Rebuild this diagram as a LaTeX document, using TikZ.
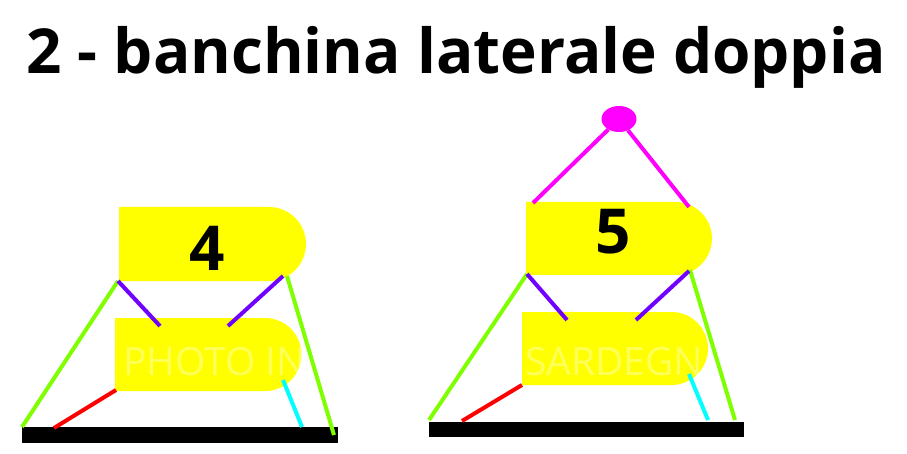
\documentclass[tikz,border=0pt]{standalone}
\usepackage{fontspec}
\usetikzlibrary{shapes.geometric}
\setmainfont{Open Sans}
\definecolor{yel}{RGB}{255,255,0}
\definecolor{grn}{RGB}{128,255,0}
\definecolor{prp}{RGB}{112,0,255}
\definecolor{rd}{RGB}{255,0,0}
\definecolor{cy}{RGB}{0,255,255}
\definecolor{mg}{RGB}{255,0,255}
\begin{document}
\begin{tikzpicture}[x=1pt,y=-1pt,
  conn/.style={line width=4pt},
  grnl/.style={conn,draw=grn},
  prpl/.style={conn,draw=prp},
  redl/.style={conn,draw=rd},
  cyl/.style={conn,draw=cy},
  mgl/.style={conn,draw=mg},
  num/.style={font=\bfseries\fontsize{62}{62}\selectfont,inner sep=0pt,anchor=base},
  wm/.style={font=\fontsize{39}{39}\selectfont,text=white,text opacity=0.35,inner sep=0pt,anchor=base west}]
\useasboundingbox (0,0) rectangle (907,454);
% title
\node[font=\bfseries\fontsize{62}{62}\selectfont,inner sep=0pt,anchor=base] (title) at (456,74) {2 - banchina laterale doppia};

% ---------- left group (4) ----------
\fill[yel] (119,207) -- (269,207) arc(-90:90:37) -- (119,281) -- cycle;
\node[num] (n4) at (207,270) {4};
\begin{scope}
\fill[yel] (115,318) -- (265,318) arc(-90:90:36.5) -- (115,391) -- cycle;
\clip (115,318) -- (265,318) arc(-90:90:36.5) -- (115,391) -- cycle;
\node[wm] (wm1) at (123,375) {PHOTO IN SARDEGNA};
\end{scope}
\fill[black] (22,427) rectangle (338,443);
\coordinate (a1) at (118,281); \coordinate (a2) at (22,427);
\coordinate (a3) at (287,276); \coordinate (a4) at (334,435);
\coordinate (a5) at (160,326); \coordinate (a6) at (283,276);
\coordinate (a7) at (228,326);
\coordinate (a8) at (116,390); \coordinate (a9) at (54,428);
\coordinate (a10) at (283,380); \coordinate (a11) at (302,427);
\draw[grnl] (a1) -- (a2);
\draw[grnl] (a3) -- (a4);
\draw[prpl] (a1) -- (a5);
\draw[prpl] (a6) -- (a7);
\draw[redl] (a8) -- (a9);
\draw[cyl] (a10) -- (a11);

% ---------- right group (5) ----------
\fill[yel] (526,202) -- (675.5,202) arc(-90:90:36.5) -- (526,275) -- cycle;
\node[num] (n5) at (613,254) {5};
\begin{scope}
\fill[yel] (522,312) -- (671.5,312) arc(-90:90:36.5) -- (522,385) -- cycle;
\clip (522,312) -- (671.5,312) arc(-90:90:36.5) -- (522,385) -- cycle;
\node[wm] (wm2) at (525,375) {SARDEGNA};
\end{scope}
\fill[black] (429,422) rectangle (744,437);
\node[ellipse,fill=mg,minimum width=35pt,minimum height=26pt,inner sep=0pt] (top) at (619,119) {};
\coordinate (b0) at (533,203); \coordinate (b00) at (689,207);
\coordinate (b1) at (527,274); \coordinate (b2) at (429,420);
\coordinate (b3) at (690,270); \coordinate (b4) at (735,420);
\coordinate (b5) at (567,320); \coordinate (b6) at (689,271);
\coordinate (b7) at (636,320);
\coordinate (b8) at (522,385); \coordinate (b9) at (462,421);
\coordinate (b10) at (689,374); \coordinate (b11) at (708,420);
\draw[mgl] (top) -- (b0);
\draw[mgl] (top) -- (b00);
\draw[grnl] (b1) -- (b2);
\draw[grnl] (b3) -- (b4);
\draw[prpl] (b1) -- (b5);
\draw[prpl] (b6) -- (b7);
\draw[redl] (b8) -- (b9);
\draw[cyl] (b10) -- (b11);
\end{tikzpicture}
\end{document}
